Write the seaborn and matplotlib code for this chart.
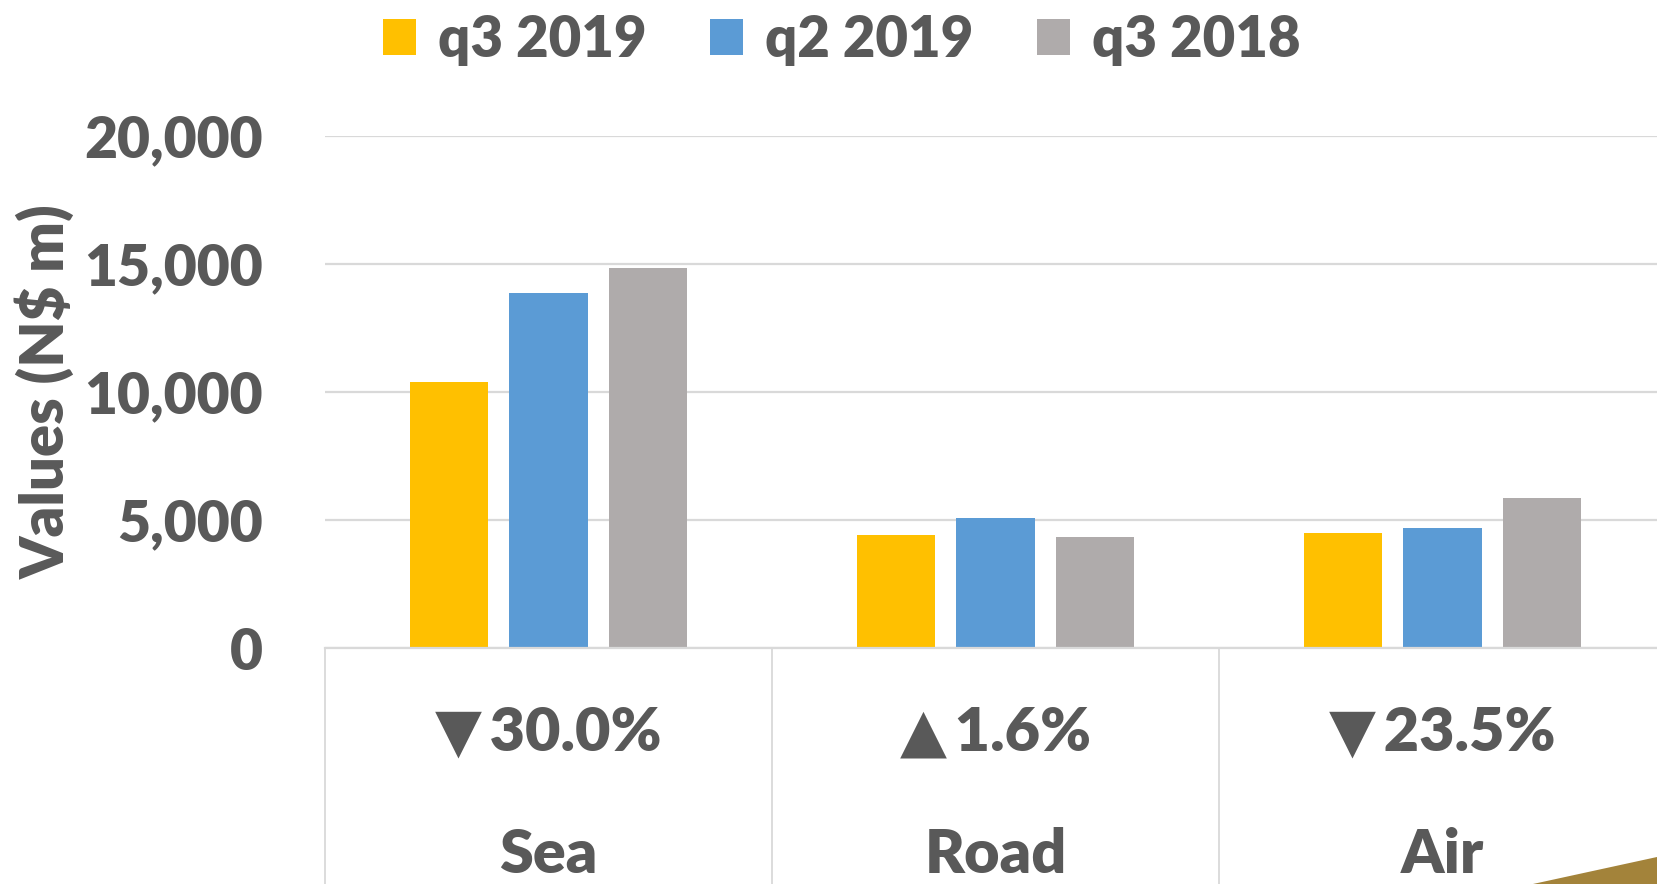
import numpy as np
import pandas as pd
import seaborn as sns
import matplotlib.pyplot as plt
from matplotlib.patches import Polygon
from matplotlib.ticker import StrMethodFormatter

# data
modes = ["Sea", "Road", "Air"]
periods = ["q3 2019", "q2 2019", "q3 2018"]
q3_2019 = [10395, 4410, 4490]
q2_2019 = [13880, 5080, 4700]
q3_2018 = [14850, 4340, 5870]
changes = ["▼\u200930.0%", "▲\u20091.6%", "▼\u200923.5%"]
yticks = [0, 5000, 10000, 15000, 20000]
palette = ["#FFC000", "#5B9BD5", "#AFABAB"]

TXT = "#595959"
GRID = "#D9D9D9"
WEIGHT = "heavy"
W, H = 1657, 884

df = pd.DataFrame({
    "mode": modes * 3,
    "period": np.repeat(periods, len(modes)),
    "value": q3_2019 + q2_2019 + q3_2018,
})

sns.set_theme(style="white")
plt.rcParams["font.family"] = ["Lato", "DejaVu Sans"]
plt.rcParams["font.weight"] = WEIGHT

fig = plt.figure(figsize=(W / 100, H / 100), dpi=100)
# plot area: left edge 325px, zero line at 648px, top gridline at 136px
ax = fig.add_axes([325 / W, (H - 648) / H, 1341 / W, 512 / H])

sns.barplot(data=df, x="mode", y="value", hue="period", palette=palette,
            saturation=1, width=0.667, gap=0.21, linewidth=0, ax=ax)

ax.set_xlim(-0.5, 2.5)
ax.set_ylim(0, 20000)
ax.set_yticks(yticks)
ax.yaxis.set_major_formatter(StrMethodFormatter("{x:,.0f}"))
ax.tick_params(axis="y", length=0, pad=45, labelsize=41, labelcolor=TXT)
for t in ax.get_yticklabels():
    t.set_fontweight(WEIGHT)
ax.yaxis.grid(True, color=GRID, lw=1.6)
ax.xaxis.grid(False)
ax.set_axisbelow(True)
for s in ["left", "right", "top"]:
    ax.spines[s].set_visible(False)
ax.spines["bottom"].set_color(GRID)
ax.spines["bottom"].set_linewidth(1.6)

# category separators running down to the bottom (multi-level axis look)
ax.set_xticks([0, 1, 2])
ax.set_xticklabels(["", "", ""])
ax.set_xticks([-0.5, 0.5, 1.5, 2.5], minor=True)
ax.tick_params(axis="x", which="major", length=0)
ax.tick_params(axis="x", which="minor", length=175, width=1.3, color=GRID, direction="out", bottom=True)
ax.set_xlabel("")

for i, (m, c) in enumerate(zip(modes, changes)):
    ax.text(i, -0.166, c, transform=ax.get_xaxis_transform(), ha="center", va="center",
            fontsize=44, fontweight=WEIGHT, color=TXT)
    ax.text(i, -0.404, m, transform=ax.get_xaxis_transform(), ha="center", va="center",
            fontsize=44, fontweight=WEIGHT, color=TXT)

ax.set_ylabel("Values (N$ m)", fontsize=43, fontweight=WEIGHT, color=TXT)
ax.yaxis.label.set_va("center")
ax.yaxis.set_label_coords((45 - 325) / 1341, 0.5)

ax.legend(loc="center", bbox_to_anchor=(842 / W, 1 - 40 / H), bbox_transform=fig.transFigure,
          ncol=3, frameon=False, prop={"weight": WEIGHT, "size": 40.5}, labelcolor=TXT,
          handlelength=0.58, handleheight=0.62, handletextpad=0.4, columnspacing=1.13)

fig.add_artist(Polygon([[1533 / W, 0], [1, 27 / H], [1, 0]], closed=True,
                       transform=fig.transFigure, facecolor="#A3833A", edgecolor="none"))

fig.savefig("out.png", dpi=100)
